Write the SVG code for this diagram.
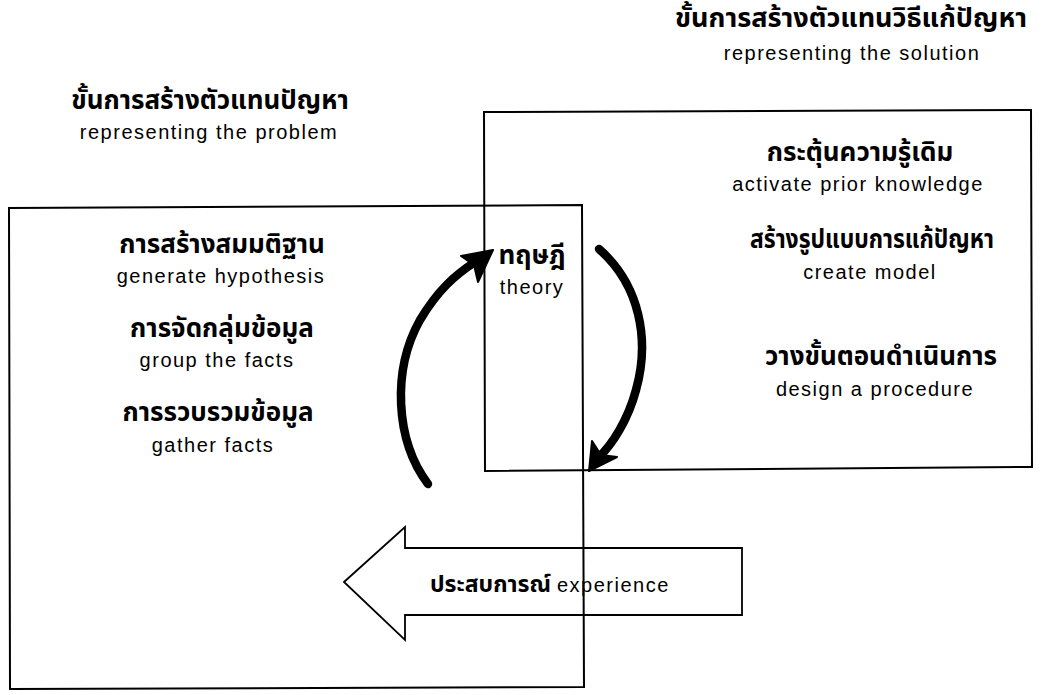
<svg xmlns="http://www.w3.org/2000/svg" width="1063" height="695" viewBox="0 0 1063 695">
<style>
.th{font-family:"Noto Sans Thai","Noto Sans Thai Looped","Loma","Garuda","Norasi","Tlwg Typo","Noto Sans",sans-serif;font-size:26px;font-weight:bold;fill:#000;text-anchor:middle}
.en{font-family:"Liberation Sans",Arial,sans-serif;font-size:20px;fill:#000;text-anchor:middle;letter-spacing:1.5px}
.box{fill:none;stroke:#000;stroke-width:2}
.curve{fill:none;stroke:#000;stroke-width:8.5;stroke-linecap:round}
.head{fill:#000;stroke:#000;stroke-width:2;stroke-linejoin:round}
</style>
<rect width="1063" height="695" fill="#fff"/>
<g id="title-solution">
<text class="th" x="851" y="27" textLength="352" lengthAdjust="spacingAndGlyphs">ขั้นการสร้างตัวแทนวิธีแก้ปัญหา</text>
<text class="en" x="852" y="60">representing the solution</text>
</g>
<g id="title-problem">
<text class="th" x="210" y="109">ขั้นการสร้างตัวแทนปัญหา</text>
<text class="en" x="209" y="139">representing the problem</text>
</g>
<g id="experience">
<path d="M344,582 L405,527 L405,548 L742,548 L742,615 L405,615 L405,640 Z" fill="#fff" stroke="#000" stroke-width="1.8" stroke-linejoin="miter"/>
<text x="430" y="592" font-family="'Noto Sans Thai','Loma','Garuda',sans-serif" font-size="23" font-weight="bold">ประสบการณ์ <tspan font-family="'Liberation Sans',Arial,sans-serif" font-size="20" font-weight="normal" letter-spacing="1.5">experience</tspan></text>
</g>
<g id="box-problem">
<path class="box" d="M9,208 L582,205 L584,687 L10,689 Z"/>
<text class="th" x="222" y="253">การสร้างสมมติฐาน</text>
<text class="en" x="221" y="283">generate hypothesis</text>
<text class="th" x="222" y="337">การจัดกลุ่มข้อมูล</text>
<text class="en" x="217" y="367">group the facts</text>
<text class="th" x="218" y="421">การรวบรวมข้อมูล</text>
<text class="en" x="213" y="452">gather facts</text>
</g>
<g id="box-solution">
<path class="box" d="M484,112 L1031,110 L1032,467 L485,471 Z"/>
<text class="th" x="860" y="161">กระตุ้นความรู้เดิม</text>
<text class="en" x="858" y="191">activate prior knowledge</text>
<text class="th" x="872" y="248" textLength="244" lengthAdjust="spacingAndGlyphs">สร้างรูปแบบการแก้ปัญหา</text>
<text class="en" x="870" y="279">create model</text>
<text class="th" x="881" y="365">วางขั้นตอนดำเนินการ</text>
<text class="en" x="875" y="396">design a procedure</text>
</g>
<g id="theory">
<text class="th" x="532" y="264" font-size="25">ทฤษฎี</text>
<text class="en" x="532" y="294">theory</text>
</g>
<g id="connectors">
<path class="curve" d="M428,484 C395,440 392,370 420,320 C438,290 455,275 475,262"/>
<path class="head" d="M493,250 L461,256 L474,265 L478,282 Z"/>
<path class="curve" d="M599,249 C640,285 650,340 636,390 C628,420 612,445 598,458"/>
<path class="head" d="M589,471 L592,441 L601,455 L617,457 Z"/>
</g>
</svg>
